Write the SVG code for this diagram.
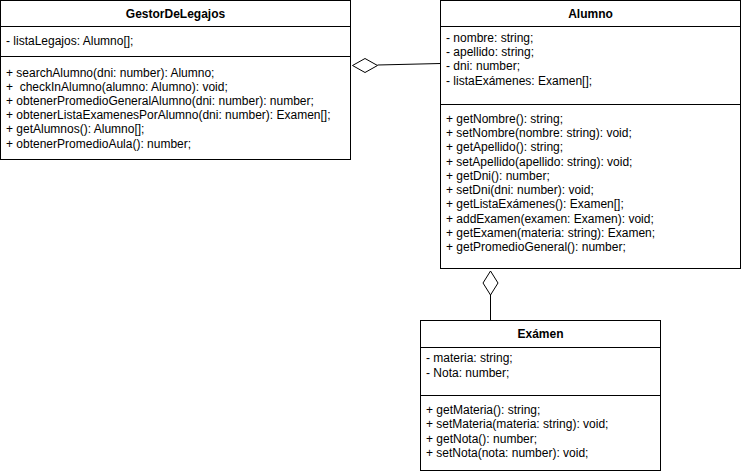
<svg xmlns="http://www.w3.org/2000/svg" width="741" height="474" viewBox="0 0 741 474">
  <style>
    .box { fill: #ffffff; stroke: #000000; stroke-width: 1; }
    .sep { stroke: #000000; stroke-width: 1; }
    .title { font-family: "Liberation Sans", Arial, sans-serif; font-size: 12px; font-weight: bold; fill: #000000; text-anchor: middle; }
    .txt { font-family: "Liberation Sans", Arial, sans-serif; font-size: 12px; fill: #000000; }
    .edge { fill: none; stroke: #000000; stroke-width: 1; }
    .diamond { fill: #ffffff; stroke: #000000; stroke-width: 1; }
  </style>
  <rect width="741" height="474" fill="#ffffff"/>

  <!-- Aggregation links -->
  <g id="connectors">
    <path class="edge" d="M 377.5 65 L 440.5 63.5"/>
    <polygon class="diamond" points="352.5,65.5 365,58.5 377.5,65.5 365,72.5"/>
    <path class="edge" d="M 490.5 295 L 490.5 320.5"/>
    <polygon class="diamond" points="490.5,271 498,283 490.5,295 483,283"/>
  </g>

  <!-- GestorDeLegajos -->
  <g id="gestorDeLegajos">
    <rect class="box" x="0.5" y="0.5" width="350" height="159"/>
    <line class="sep" x1="0.5" y1="26.5" x2="350.5" y2="26.5"/>
    <line class="sep" x1="0.5" y1="56.5" x2="350.5" y2="56.5"/>
    <text class="title" x="175.5" y="18">GestorDeLegajos</text>
    <text class="txt" x="6" y="45">- listaLegajos: Alumno[];</text>
    <text class="txt" x="6" y="77">+ searchAlumno(dni: number): Alumno;</text>
    <text class="txt" x="6" y="91" xml:space="preserve">+  checkInAlumno(alumno: Alumno): void;</text>
    <text class="txt" x="6" y="105">+ obtenerPromedioGeneralAlumno(dni: number): number;</text>
    <text class="txt" x="6" y="119">+ obtenerListaExamenesPorAlumno(dni: number): Examen[];</text>
    <text class="txt" x="6" y="133">+ getAlumnos(): Alumno[];</text>
    <text class="txt" x="6" y="148">+ obtenerPromedioAula(): number;</text>
  </g>

  <!-- Alumno -->
  <g id="alumno">
    <rect class="box" x="440.5" y="0.5" width="300" height="268"/>
    <line class="sep" x1="440.5" y1="26.5" x2="740.5" y2="26.5"/>
    <line class="sep" x1="440.5" y1="104.5" x2="740.5" y2="104.5"/>
    <text class="title" x="590.5" y="18">Alumno</text>
    <text class="txt" x="446" y="42">- nombre: string;</text>
    <text class="txt" x="446" y="56">- apellido: string;</text>
    <text class="txt" x="446" y="70">- dni: number;</text>
    <text class="txt" x="446" y="85">- listaExámenes: Examen[];</text>
    <text class="txt" x="446" y="123">+ getNombre(): string;</text>
    <text class="txt" x="446" y="137">+ setNombre(nombre: string): void;</text>
    <text class="txt" x="446" y="151">+ getApellido(): string;</text>
    <text class="txt" x="446" y="166">+ setApellido(apellido: string): void;</text>
    <text class="txt" x="446" y="180">+ getDni(): number;</text>
    <text class="txt" x="446" y="194">+ setDni(dni: number): void;</text>
    <text class="txt" x="446" y="208">+ getListaExámenes(): Examen[];</text>
    <text class="txt" x="446" y="223">+ addExamen(examen: Examen): void;</text>
    <text class="txt" x="446" y="237">+ getExamen(materia: string): Examen;</text>
    <text class="txt" x="446" y="251">+ getPromedioGeneral(): number;</text>
  </g>

  <!-- Exámen -->
  <g id="examen">
    <rect class="box" x="420.5" y="320.5" width="240" height="150"/>
    <line class="sep" x1="420.5" y1="347.5" x2="660.5" y2="347.5"/>
    <line class="sep" x1="420.5" y1="395.5" x2="660.5" y2="395.5"/>
    <text class="title" x="540.5" y="338">Exámen</text>
    <text class="txt" x="426" y="362">- materia: string;</text>
    <text class="txt" x="426" y="377">- Nota: number;</text>
    <text class="txt" x="426" y="414">+ getMateria(): string;</text>
    <text class="txt" x="426" y="428">+ setMateria(materia: string): void;</text>
    <text class="txt" x="426" y="443">+ getNota(): number;</text>
    <text class="txt" x="426" y="457">+ setNota(nota: number): void;</text>
  </g>
</svg>
